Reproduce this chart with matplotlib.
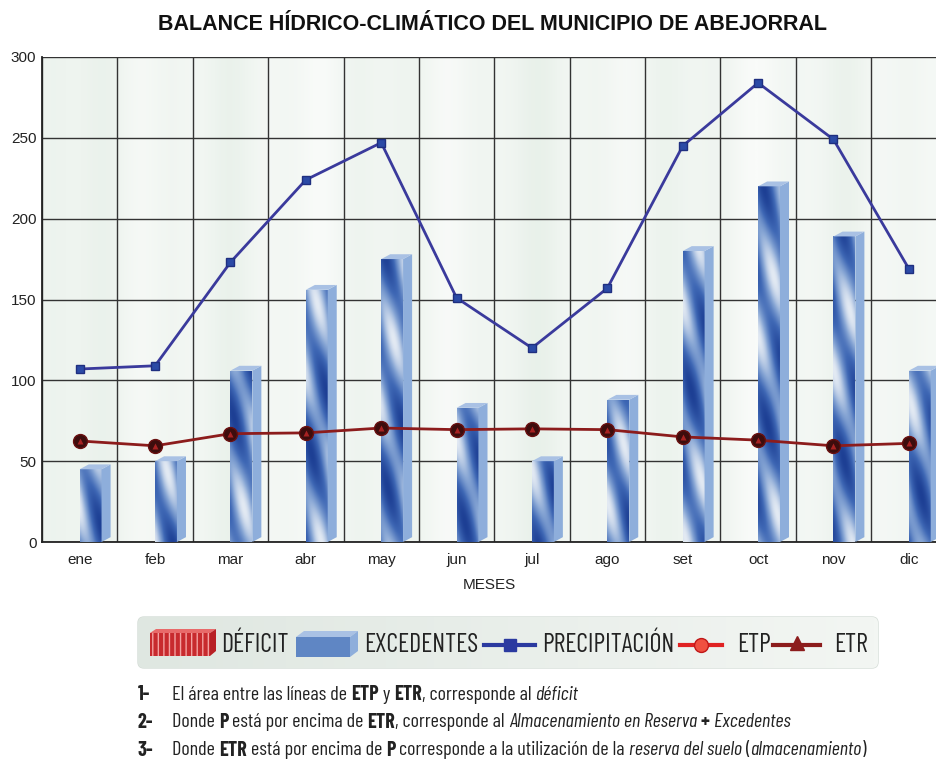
import numpy as np
import matplotlib.pyplot as plt
from matplotlib.patches import Rectangle, Polygon, FancyBboxPatch
from matplotlib.colors import LinearSegmentedColormap

meses = ['ene', 'feb', 'mar', 'abr', 'may', 'jun', 'jul', 'ago', 'set', 'oct', 'nov', 'dic']
precipitacion = [107, 109, 173, 224, 247, 151, 120, 157, 245, 284, 249, 169]
etp = [62.5, 59.5, 67, 67.5, 70.5, 69.5, 70, 69.5, 65, 63, 59.5, 61]
etr = [62.5, 59.5, 67, 67.5, 70.5, 69.5, 70, 69.5, 65, 63, 59.5, 61]
excedentes = [45, 50, 106, 156, 175, 83, 50, 88, 180, 220, 189, 106]
y_ticks = [0, 50, 100, 150, 200, 250, 300]

titulo = 'BALANCE HÍDRICO-CLIMÁTICO DEL MUNICIPIO DE ABEJORRAL'
leyenda = ['DÉFICIT', 'EXCEDENTES', 'PRECIPITACIÓN', 'ETP', 'ETR']
notas = [
    [('El área entre las líneas de ', 'normal', 'normal'), ('ETP', 'bold', 'normal'),
     (' y ', 'normal', 'normal'), ('ETR', 'bold', 'normal'),
     (', corresponde al ', 'normal', 'normal'), ('déficit', 'normal', 'italic')],
    [('Donde ', 'normal', 'normal'), ('P', 'bold', 'normal'),
     (' está por encima de ', 'normal', 'normal'), ('ETR', 'bold', 'normal'),
     (', corresponde al ', 'normal', 'normal'),
     ('Almacenamiento en Reserva', 'normal', 'italic'), (' + ', 'bold', 'normal'),
     ('Excedentes', 'normal', 'italic')],
    [('Donde ', 'normal', 'normal'), ('ETR', 'bold', 'normal'),
     (' está por encima de ', 'normal', 'normal'), ('P', 'bold', 'normal'),
     (' corresponde a la utilización de la ', 'normal', 'normal'),
     ('reserva del suelo', 'normal', 'italic'), (' (', 'normal', 'normal'),
     ('almacenamiento', 'normal', 'italic'), (')', 'normal', 'normal')],
]

NARROW = ['Barlow Condensed', 'DejaVu Sans']
REG = ['Liberation Sans', 'DejaVu Sans']
INK = '#222222'

fig = plt.figure(figsize=(9.36, 7.76), dpi=100)
fig.patch.set_facecolor('white')
renderer = fig.canvas.get_renderer()

ax = fig.add_axes([42 / 936, 1 - 542 / 776, 1 - 42 / 936, 485 / 776])
x0, x1 = -0.5, 11.36

# soft streaky background of the plot area
xs = np.linspace(0, 1, 600)
streak = (0.5 * np.sin(xs * 37) + 0.3 * np.sin(xs * 91 + 1.3) + 0.2 * np.sin(xs * 13 + 0.4))
streak = (streak - streak.min()) / (streak.max() - streak.min())
bg = np.tile(streak, (50, 1))
bg_cmap = LinearSegmentedColormap.from_list('bg', ['#f9fbf9', '#eef4ef', '#e2ede4'])
ax.imshow(bg, extent=(x0, x1, 0, 300), aspect='auto', cmap=bg_cmap, zorder=0, vmin=0, vmax=1.4)

# grid
ax.set_xticks(range(len(meses)))
ax.set_xticklabels(meses, fontsize=11, family=REG, color=INK)
ax.set_xticks(np.arange(-0.5, 12, 1), minor=True)
ax.set_yticks(y_ticks)
ax.set_yticklabels([str(v) for v in y_ticks], fontsize=11, family=REG, color=INK)
ax.tick_params(which='both', length=0)
ax.tick_params(axis='x', pad=8)
ax.tick_params(axis='y', pad=4)
ax.grid(which='minor', axis='x', color='#333333', lw=1.0, zorder=1)
ax.grid(which='major', axis='y', color='#333333', lw=1.0, zorder=1)
ax.grid(which='major', axis='x', visible=False)
ax.set_axisbelow(True)
for s in ['top', 'right']:
    ax.spines[s].set_visible(False)
for s in ['left', 'bottom']:
    ax.spines[s].set_color(INK)
    ax.spines[s].set_linewidth(1.3)
ax.set_xlabel('MESES', fontsize=11, family=REG, labelpad=8, color=INK)

# 3D-ish textured bars (excedentes)
bw, dx, dy = 0.29, 0.12, 3.0
bar_cmap = LinearSegmentedColormap.from_list('bar', ['#1d3f94', '#3f68b5', '#86a5d4', '#e3eaf3'])
for i, v in enumerate(excedentes):
    front = Rectangle((i, 0), bw, v, facecolor='none', edgecolor='none', zorder=3)
    ax.add_patch(front)
    yy = np.linspace(0, v, 200)[:, None]
    uu = np.linspace(0, 1, 40)[None, :]
    tex = 0.6 * np.sin(yy * 0.09 + uu * 4.0 + i * 1.7) + 0.4 * np.sin(yy * 0.04 - uu * 2.0 + i)
    im = ax.imshow(tex, extent=(i, i + bw, 0, v), origin='lower', aspect='auto',
                   cmap=bar_cmap, zorder=3, interpolation='bilinear')
    im.set_clip_path(front)
    ax.add_patch(Polygon([(i + bw, 0), (i + bw + dx, dy), (i + bw + dx, v + dy), (i + bw, v)],
                         closed=True, facecolor='#8eaedb', edgecolor='none', zorder=3))
    ax.add_patch(Polygon([(i, v), (i + dx, v + dy), (i + bw + dx, v + dy), (i + bw, v)],
                         closed=True, facecolor='#a9c1e4', edgecolor='none', zorder=3))

xm = np.arange(len(meses))
ax.plot(xm, precipitacion, color='#3a3a9c', lw=2, marker='s', ms=6,
        mfc='#2b4aa6', mec='#1f2f80', zorder=5)
ax.plot(xm, etp, color='#8c1c1c', lw=2, marker='o', ms=10,
        mfc='#3d0d0d', mec='#6a1010', zorder=6)
ax.plot(xm, etr, lw=0, marker='^', ms=5, mfc='#a82222', mec='none', zorder=7)

ax.set_xlim(x0, x1)
ax.set_ylim(0, 300)

# overlay in pixel coordinates for title, legend box and notes
ov = fig.add_axes([0, 0, 1, 1])
ov.axis('off')
ov.patch.set_visible(False)


def fit_size(s, family, width, weight='normal', style='normal'):
    t = ov.text(0, 0, s, fontsize=10, family=family, fontweight=weight, fontstyle=style)
    w = t.get_window_extent(renderer).width
    t.remove()
    return 10 * width / w


ov.text(493, 25, titulo, ha='center', va='center', color='#111111', family=REG,
        fontweight='bold', fontsize=fit_size(titulo, REG, 670, weight='bold'))

box = FancyBboxPatch((138, 617), 740, 51, boxstyle='round,pad=0,rounding_size=6',
                     facecolor='none', edgecolor='#d5ddd7', lw=1)
ov.add_patch(box)
grad = np.tile(np.linspace(0, 1, 200), (10, 1))
gim = ov.imshow(grad, extent=(138, 878, 668, 617), aspect='auto',
                cmap=LinearSegmentedColormap.from_list('lg', ['#dfe7e1', '#f3f6f3']), zorder=1)
gim.set_clip_path(box)
ov.set_xlim(0, 936)
ov.set_ylim(776, 0)

# legend icons
ov.add_patch(Rectangle((150, 633), 60, 23, facecolor='#c82a2e', edgecolor='#f3a0a0',
                       hatch='|||', lw=0, zorder=2))
ov.add_patch(Polygon([(150, 633), (156, 629), (216, 629), (210, 633)], facecolor='#e86a6a',
                     edgecolor='none', zorder=2))
ov.add_patch(Polygon([(210, 633), (216, 629), (216, 651), (210, 656)], facecolor='#b82025',
                     edgecolor='none', zorder=2))
ov.add_patch(Rectangle((296, 637), 54, 20, facecolor='#5f86c4', edgecolor='none', zorder=2))
ov.add_patch(Polygon([(296, 637), (304, 631), (358, 631), (350, 637)], facecolor='#a9c1e4',
                     edgecolor='none', zorder=2))
ov.add_patch(Polygon([(350, 637), (358, 631), (358, 651), (350, 657)], facecolor='#8eaedb',
                     edgecolor='none', zorder=2))
ov.plot([484, 535], [645, 645], color='#2b3aa0', lw=3, zorder=2)
ov.plot([510], [645], marker='s', ms=8, color='#2b3aa0', zorder=3)
ov.plot([680, 722], [645, 645], color='#e02222', lw=3, zorder=2)
ov.plot([701], [645], marker='o', ms=10, mfc='#f05040', mec='#c01818', zorder=3)
ov.plot([773, 820], [645, 645], color='#8c1c1c', lw=3, zorder=2)
ov.plot([797], [643], marker='^', ms=10, color='#8c1c1c', zorder=3)

leg_size = fit_size('PRECIPITACIÓN', NARROW, 133)
for xt, txt in zip([221, 364, 542, 737, 834], leyenda):
    ov.text(xt, 645, txt, ha='left', va='center', fontsize=leg_size, family=NARROW,
            color=INK, zorder=4)


# notes with mixed bold / italic segments
def rich_line(x, y, parts, size):
    for s, w, st in parts:
        t = ov.text(x, y, s, ha='left', va='center', fontsize=size, family=NARROW,
                    fontweight=w, fontstyle=st, color=INK)
        x += t.get_window_extent(renderer).width
    return x


probe_end = rich_line(0, -100, notas[2], 10)
for t in list(ov.texts):
    if t.get_position()[1] == -100:
        t.remove()
note_size = 10 * (868 - 172) / probe_end

for k, y in enumerate([695, 722, 750]):
    ov.text(138, y, f'{k + 1}-', ha='left', va='center', fontsize=note_size, family=NARROW,
            fontweight='bold', color=INK)
    rich_line(172, y, notas[k], note_size)

fig.savefig('out.png', dpi=100)
